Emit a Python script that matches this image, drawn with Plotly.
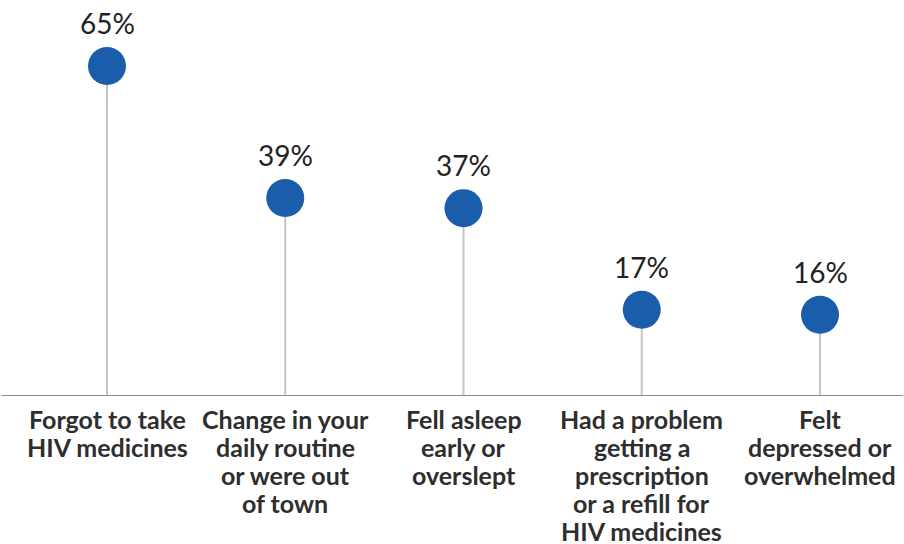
import plotly.graph_objects as go

# Reasons for missing HIV medicine doses (share of respondents)
categories = [
    "Forgot to take<br>HIV medicines",
    "Change in your<br>daily routine<br>or were out<br>of town",
    "Fell asleep<br>early or<br>overslept",
    "Had a problem<br>getting a<br>prescription<br>or a refill for<br>HIV medicines",
    "Felt<br>depressed or<br>overwhelmed",
]
values = [65, 39, 37, 17, 16]
value_labels = ["65%", "39%", "37%", "17%", "16%"]

DOT = "#1a5dab"
STEM = "#c4c4c4"
BASE = "#8a8a8a"
TXT = "#2e2e2e"

xs = list(range(len(values)))

fig = go.Figure()

# stems from the baseline up to each value
stem_x, stem_y = [], []
for x, v in zip(xs, values):
    stem_x += [x, x, None]
    stem_y += [0, v, None]
fig.add_trace(go.Scatter(
    x=stem_x, y=stem_y, mode="lines",
    line=dict(color=STEM, width=2), hoverinfo="skip", showlegend=False,
))

# lollipop heads
fig.add_trace(go.Scatter(
    x=xs, y=values, mode="markers",
    marker=dict(size=38, color=DOT, line=dict(width=0)),
    showlegend=False,
))

annotations = []
# value labels above each head
for x, v, lab in zip(xs, values, value_labels):
    annotations.append(dict(
        x=x, y=v, xref="x", yref="y", text=lab, showarrow=False,
        yanchor="bottom", yshift=24,
        font=dict(family="Lato", size=28, color="#222222"),
    ))

# category labels, one annotation per line for tight line spacing
LINE_PITCH = 28
for x, cat in zip(xs, categories):
    for i, line in enumerate(cat.split("<br>")):
        annotations.append(dict(
            x=x, y=0, xref="x", yref="paper", text=f"<b>{line}</b>",
            showarrow=False, yanchor="top", xanchor="center",
            yshift=-6 - i * LINE_PITCH,
            font=dict(family="Lato", size=25, color=TXT),
        ))

fig.update_layout(
    width=904, height=544,
    margin=dict(l=0, r=0, t=0, b=148),
    paper_bgcolor="white", plot_bgcolor="white",
    xaxis=dict(range=[-0.6003, 4.4712], visible=False, fixedrange=True),
    yaxis=dict(range=[0, 78.0], visible=False, fixedrange=True),
    annotations=annotations,
    shapes=[dict(
        type="line", xref="paper", yref="y", x0=0.002, x1=0.999, y0=0, y1=0,
        line=dict(color=BASE, width=2), layer="above",
    )],
    showlegend=False,
)

fig.write_html("out.html")
